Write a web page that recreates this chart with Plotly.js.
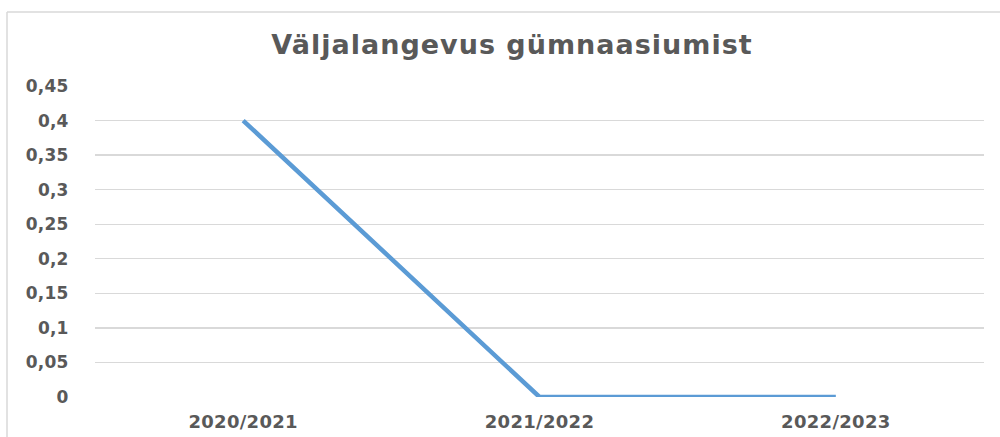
<!DOCTYPE html>
<html>
<head>
<meta charset="utf-8">
<script src="https://cdn.plot.ly/plotly-3.0.1.min.js"></script>
<style>
html,body{margin:0;padding:0;background:#fff;}
#chart{width:1000px;height:437px;}
#chart .gtitle{letter-spacing:1px;}
#chart .ytick text{letter-spacing:0.2px;}
#chart .xtick text{letter-spacing:0.3px;}
</style>
</head>
<body>
<div id="chart"></div>
<script>
const categories = ["2020/2021", "2021/2022", "2022/2023"];
const values = [0.4, 0, 0];
const yTickVals = [0, 0.05, 0.1, 0.15, 0.2, 0.25, 0.3, 0.35, 0.4, 0.45];
const yTickText = ["0", "0,05", "0,1", "0,15", "0,2", "0,25", "0,3", "0,35", "0,4", "0,45"];

const font = "'DejaVu Sans', Verdana, sans-serif";
const trace = {
  x: categories, y: values, type: "scatter", mode: "lines",
  line: {color: "#5B9BD5", width: 4.5}, hoverinfo: "skip"
};
const layout = {
  width: 1000, height: 437,
  margin: {l: 95, r: 16, t: 86, b: 40},
  paper_bgcolor: "#fff", plot_bgcolor: "#fff",
  showlegend: false,
  separators: ", ",
  title: {text: "<b>Väljalangevus gümnaasiumist</b>", x: 0.512, xanchor: "center", y: 0.897, yanchor: "middle",
          font: {family: font, size: 27, color: "#595959"}},
  xaxis: {type: "category", range: [-0.5, 2.5], showgrid: false, zeroline: false, showline: false,
          ticks: "outside", ticklen: 8, tickcolor: "rgba(0,0,0,0)",
          tickfont: {family: font, size: 18, color: "#595959", weight: "bold"}},
  yaxis: {range: [0, 0.45], tickvals: yTickVals, ticktext: yTickText, showgrid: true, gridcolor: "#d9d9d9", gridwidth: 1.3,
          zeroline: false, showline: false, ticks: "outside", ticklen: 22, tickcolor: "rgba(0,0,0,0)",
          tickfont: {family: font, size: 17, color: "#595959", weight: "bold"}},
  shapes: [
    {type: "line", xref: "paper", yref: "paper", x0: -88/889, x1: 1.2, y0: 385/311, y1: 385/311, line: {color: "#d9d9d9", width: 1.5}},
    {type: "line", xref: "paper", yref: "paper", x0: -88/889, x1: -88/889, y0: 385/311, y1: -0.3, line: {color: "#d9d9d9", width: 1.5}}
  ]
};
Plotly.newPlot("chart", [trace], layout, {displayModeBar: false, staticPlot: true});
</script>
</body>
</html>
